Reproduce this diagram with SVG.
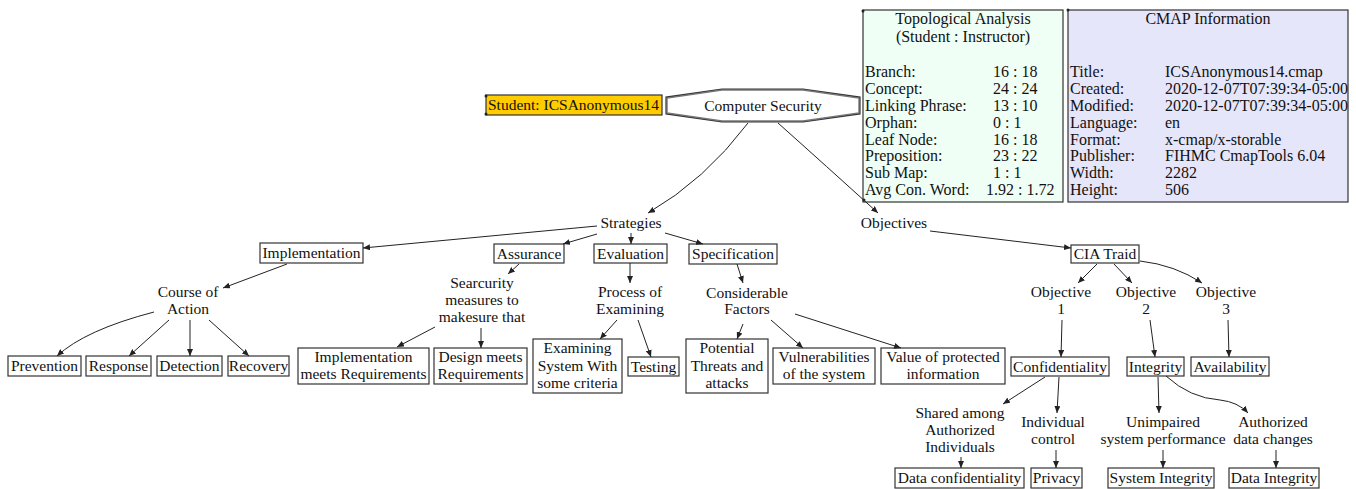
<svg xmlns="http://www.w3.org/2000/svg" width="1356" height="489" viewBox="0 0 1356 489">
<style>
text{font-family:"Liberation Serif","Times New Roman",serif;font-size:15.5px;fill:#111}
.c{text-anchor:middle}
.i{font-size:16px}
.box{fill:#fff;stroke:#333;stroke-width:1.2}
.ln{fill:none;stroke:#222;stroke-width:1}
.dot{fill:#222}
</style>
<defs>
<marker id="ah" markerUnits="userSpaceOnUse" markerWidth="8" markerHeight="6" refX="7" refY="3" orient="auto">
<path d="M0,0 L7,3 L0,6 z" fill="#222"/>
</marker>
</defs>
<rect width="1356" height="489" fill="#fff"/>

<g id="topological">
<rect x="863" y="10" width="200" height="192" fill="#F0FFF5" stroke="#333" stroke-width="1.2"/>
<circle class="dot" cx="863" cy="11" r="1.5"/>
<circle class="dot" cx="864" cy="200" r="1.5"/>
<text class="c i" x="963" y="24">Topological Analysis</text>
<text class="c i" x="963" y="42">(Student : Instructor)</text>
<text class="i" x="865" y="77">Branch:</text><text class="i" x="993" y="77">16 : 18</text>
<text class="i" x="865" y="94">Concept:</text><text class="i" x="993" y="94">24 : 24</text>
<text class="i" x="865" y="111">Linking Phrase:</text><text class="i" x="993" y="111">13 : 10</text>
<text class="i" x="865" y="128">Orphan:</text><text class="i" x="993" y="128">0 : 1</text>
<text class="i" x="865" y="145">Leaf Node:</text><text class="i" x="993" y="145">16 : 18</text>
<text class="i" x="865" y="161">Preposition:</text><text class="i" x="993" y="161">23 : 22</text>
<text class="i" x="865" y="178">Sub Map:</text><text class="i" x="993" y="178">1 : 1</text>
<text class="i" x="865" y="195">Avg Con. Word:</text><text class="i" x="986" y="195">1.92 : 1.72</text>
</g>

<g id="cmapinfo">
<rect x="1068" y="10" width="280" height="192" fill="#E6E6FA" stroke="#333" stroke-width="1.2"/>
<circle class="dot" cx="1068" cy="10" r="1.5"/>
<text class="c i" x="1208" y="24">CMAP Information</text>
<text class="i" x="1070" y="77">Title:</text><text class="i" x="1165" y="77">ICSAnonymous14.cmap</text>
<text class="i" x="1070" y="94">Created:</text><text class="i" x="1165" y="94">2020-12-07T07:39:34-05:00</text>
<text class="i" x="1070" y="111">Modified:</text><text class="i" x="1165" y="111">2020-12-07T07:39:34-05:00</text>
<text class="i" x="1070" y="128">Language:</text><text class="i" x="1165" y="128">en</text>
<text class="i" x="1070" y="145">Format:</text><text class="i" x="1165" y="145">x-cmap/x-storable</text>
<text class="i" x="1070" y="161">Publisher:</text><text class="i" x="1165" y="161">FIHMC CmapTools 6.04</text>
<text class="i" x="1070" y="178">Width:</text><text class="i" x="1165" y="178">2282</text>
<text class="i" x="1070" y="195">Height:</text><text class="i" x="1165" y="195">506</text>
</g>

<g id="student">
<rect x="486" y="95" width="176" height="20" fill="#FFCC00" stroke="#333" stroke-width="1.2"/>
<circle class="dot" cx="486" cy="96" r="1.5"/>
<circle class="dot" cx="486" cy="114" r="1.5"/>
<text x="488" y="110">Student: ICSAnonymous14</text>
</g>

<g id="computer-security">
<polygon points="722,90 803,90 859,98 859,113 803,121 722,121 667,113 667,98" fill="#fff" stroke="#333" stroke-width="3.2"/>
<polygon points="722,90 803,90 859,98 859,113 803,121 722,121 667,113 667,98" fill="#fff" stroke="#777" stroke-width="1.4"/>
<text class="c" x="763" y="111">Computer Security</text>
</g>

<g id="strategies"><text class="c" x="631" y="228">Strategies</text></g>
<g id="objectives"><text class="c" x="894" y="228">Objectives</text></g>

<g id="implementation"><rect class="box" x="260" y="243" width="103" height="20"/><text class="c" x="311.5" y="258">Implementation</text></g>
<g id="assurance"><rect class="box" x="494" y="244" width="70" height="19"/><text class="c" x="529" y="258.5">Assurance</text></g>
<g id="evaluation"><rect class="box" x="594" y="244" width="73" height="19"/><text class="c" x="630.5" y="258.5">Evaluation</text></g>
<g id="specification"><rect class="box" x="689" y="244" width="88" height="20"/><text class="c" x="733" y="259">Specification</text></g>

<g id="course-of-action"><text class="c" x="188" y="297">Course of</text><text class="c" x="188" y="314">Action</text></g>
<g id="prevention"><rect class="box" x="8" y="356" width="73" height="20"/><text class="c" x="44.5" y="371">Prevention</text></g>
<g id="response"><rect class="box" x="86" y="356" width="65" height="20"/><text class="c" x="118.5" y="371">Response</text></g>
<g id="detection"><rect class="box" x="157" y="356" width="65" height="20"/><text class="c" x="189.5" y="371">Detection</text></g>
<g id="recovery"><rect class="box" x="228" y="356" width="61" height="20"/><text class="c" x="258.5" y="371">Recovery</text></g>

<g id="searcurity"><text class="c" x="482" y="288">Searcurity</text><text class="c" x="482" y="305">measures to</text><text class="c" x="482" y="322">makesure that</text></g>
<g id="impl-meets"><rect class="box" x="298" y="348" width="131" height="36"/><text class="c" x="363.5" y="362">Implementation</text><text class="c" x="363.5" y="379">meets Requirements</text></g>
<g id="design-meets"><rect class="box" x="434" y="348" width="93" height="36"/><text class="c" x="480.5" y="362">Design meets</text><text class="c" x="480.5" y="379">Requirements</text></g>

<g id="process-of-examining"><text class="c" x="630" y="297">Process of</text><text class="c" x="630" y="314">Examining</text></g>
<g id="examining-system"><rect class="box" x="533" y="339" width="89" height="54"/><text class="c" x="577.5" y="353">Examining</text><text class="c" x="577.5" y="371">System With</text><text class="c" x="577.5" y="388">some criteria</text></g>
<g id="testing"><rect class="box" x="628" y="357" width="51" height="19"/><text class="c" x="653.5" y="371.5">Testing</text></g>

<g id="considerable-factors"><text class="c" x="747" y="298">Considerable</text><text class="c" x="747" y="314">Factors</text></g>
<g id="potential-threats"><rect class="box" x="686" y="339" width="82" height="54"/><text class="c" x="727" y="353">Potential</text><text class="c" x="727" y="371">Threats and</text><text class="c" x="727" y="388">attacks</text></g>
<g id="vulnerabilities"><rect class="box" x="773" y="348" width="102" height="36"/><text class="c" x="824" y="362">Vulnerabilities</text><text class="c" x="824" y="379">of the system</text></g>
<g id="value-protected"><rect class="box" x="881" y="348" width="124" height="36"/><text class="c" x="943" y="362">Value of protected</text><text class="c" x="943" y="379">information</text></g>

<g id="cia-traid"><rect class="box" x="1071" y="245" width="68" height="18"/><text class="c" x="1105" y="259">CIA Traid</text></g>
<g id="objective1"><text class="c" x="1061" y="297">Objective</text><text class="c" x="1061" y="314">1</text></g>
<g id="objective2"><text class="c" x="1146" y="297">Objective</text><text class="c" x="1146" y="314">2</text></g>
<g id="objective3"><text class="c" x="1226" y="297">Objective</text><text class="c" x="1226" y="314">3</text></g>
<g id="confidentiality"><rect class="box" x="1011" y="357" width="98" height="19"/><text class="c" x="1060" y="371.5">Confidentiality</text></g>
<g id="integrity"><rect class="box" x="1127" y="357" width="57" height="19"/><text class="c" x="1155.5" y="371.5">Integrity</text></g>
<g id="availability"><rect class="box" x="1191" y="357" width="78" height="19"/><text class="c" x="1230" y="371.5">Availability</text></g>

<g id="shared-among"><text class="c" x="960" y="418">Shared among</text><text class="c" x="960" y="435">Authorized</text><text class="c" x="960" y="452">Individuals</text></g>
<g id="individual-control"><text class="c" x="1053" y="427">Individual</text><text class="c" x="1053" y="444">control</text></g>
<g id="unimpaired"><text class="c" x="1163" y="427">Unimpaired</text><text class="c" x="1163" y="444">system performance</text></g>
<g id="authorized-changes"><text class="c" x="1273" y="427">Authorized</text><text class="c" x="1273" y="444">data changes</text></g>
<g id="data-confidentiality"><rect class="box" x="895" y="468" width="129" height="20"/><text class="c" x="959.5" y="483">Data confidentiality</text></g>
<g id="privacy"><rect class="box" x="1031" y="468" width="51" height="20"/><text class="c" x="1056.5" y="483">Privacy</text></g>
<g id="system-integrity"><rect class="box" x="1108" y="468" width="106" height="20"/><text class="c" x="1161" y="483">System Integrity</text></g>
<g id="data-integrity"><rect class="box" x="1229" y="468" width="90" height="20"/><text class="c" x="1274" y="483">Data Integrity</text></g>

<g id="connectors">
<path class="ln" marker-end="url(#ah)" d="M748,123 Q705,180 648,213"/>
<path class="ln" marker-end="url(#ah)" d="M778,123 Q825,165 878,213"/>
<path class="ln" marker-end="url(#ah)" d="M597,226 L363,248"/>
<path class="ln" marker-end="url(#ah)" d="M597,234 L563,244"/>
<path class="ln" marker-end="url(#ah)" d="M631,233 L631,244"/>
<path class="ln" marker-end="url(#ah)" d="M665,233 L703,244"/>
<path class="ln" marker-end="url(#ah)" d="M287,264 L223,288"/>
<path class="ln" marker-end="url(#ah)" d="M154,312 Q85,330 57,356"/>
<path class="ln" marker-end="url(#ah)" d="M169,320 L129,356"/>
<path class="ln" marker-end="url(#ah)" d="M190,320 L190,356"/>
<path class="ln" marker-end="url(#ah)" d="M209,320 L249,356"/>
<path class="ln" marker-end="url(#ah)" d="M519,264 L508,274"/>
<path class="ln" marker-end="url(#ah)" d="M435,327 L397,347"/>
<path class="ln" marker-end="url(#ah)" d="M481,328 L481,348"/>
<path class="ln" marker-end="url(#ah)" d="M630,263 L630,283"/>
<path class="ln" marker-end="url(#ah)" d="M617,320 L600,339"/>
<path class="ln" marker-end="url(#ah)" d="M638,320 L651,357"/>
<path class="ln" marker-end="url(#ah)" d="M737,264 L743,283"/>
<path class="ln" marker-end="url(#ah)" d="M743,324 L737,339"/>
<path class="ln" marker-end="url(#ah)" d="M771,320 L803,348"/>
<path class="ln" marker-end="url(#ah)" d="M795,314 L901,348"/>
<path class="ln" marker-end="url(#ah)" d="M930,231 L1071,248"/>
<path class="ln" marker-end="url(#ah)" d="M1097,264 L1078,283"/>
<path class="ln" marker-end="url(#ah)" d="M1114,264 L1132,283"/>
<path class="ln" marker-end="url(#ah)" d="M1140,261 Q1175,265 1202,283"/>
<path class="ln" marker-end="url(#ah)" d="M1062,320 L1061,357"/>
<path class="ln" marker-end="url(#ah)" d="M1150,320 L1155,357"/>
<path class="ln" marker-end="url(#ah)" d="M1228,320 L1229,357"/>
<path class="ln" marker-end="url(#ah)" d="M1045,377 L1003,404"/>
<path class="ln" marker-end="url(#ah)" d="M1059,377 L1057,413"/>
<path class="ln" marker-end="url(#ah)" d="M1158,377 L1159,413"/>
<path class="ln" marker-end="url(#ah)" d="M1166,376 Q1190,398 1220,400 Q1238,402 1248,413"/>
<path class="ln" marker-end="url(#ah)" d="M961,457 L961,468"/>
<path class="ln" marker-end="url(#ah)" d="M1056,450 L1056,468"/>
<path class="ln" marker-end="url(#ah)" d="M1163,450 L1163,468"/>
<path class="ln" marker-end="url(#ah)" d="M1276,450 L1276,468"/>
</g>
</svg>
